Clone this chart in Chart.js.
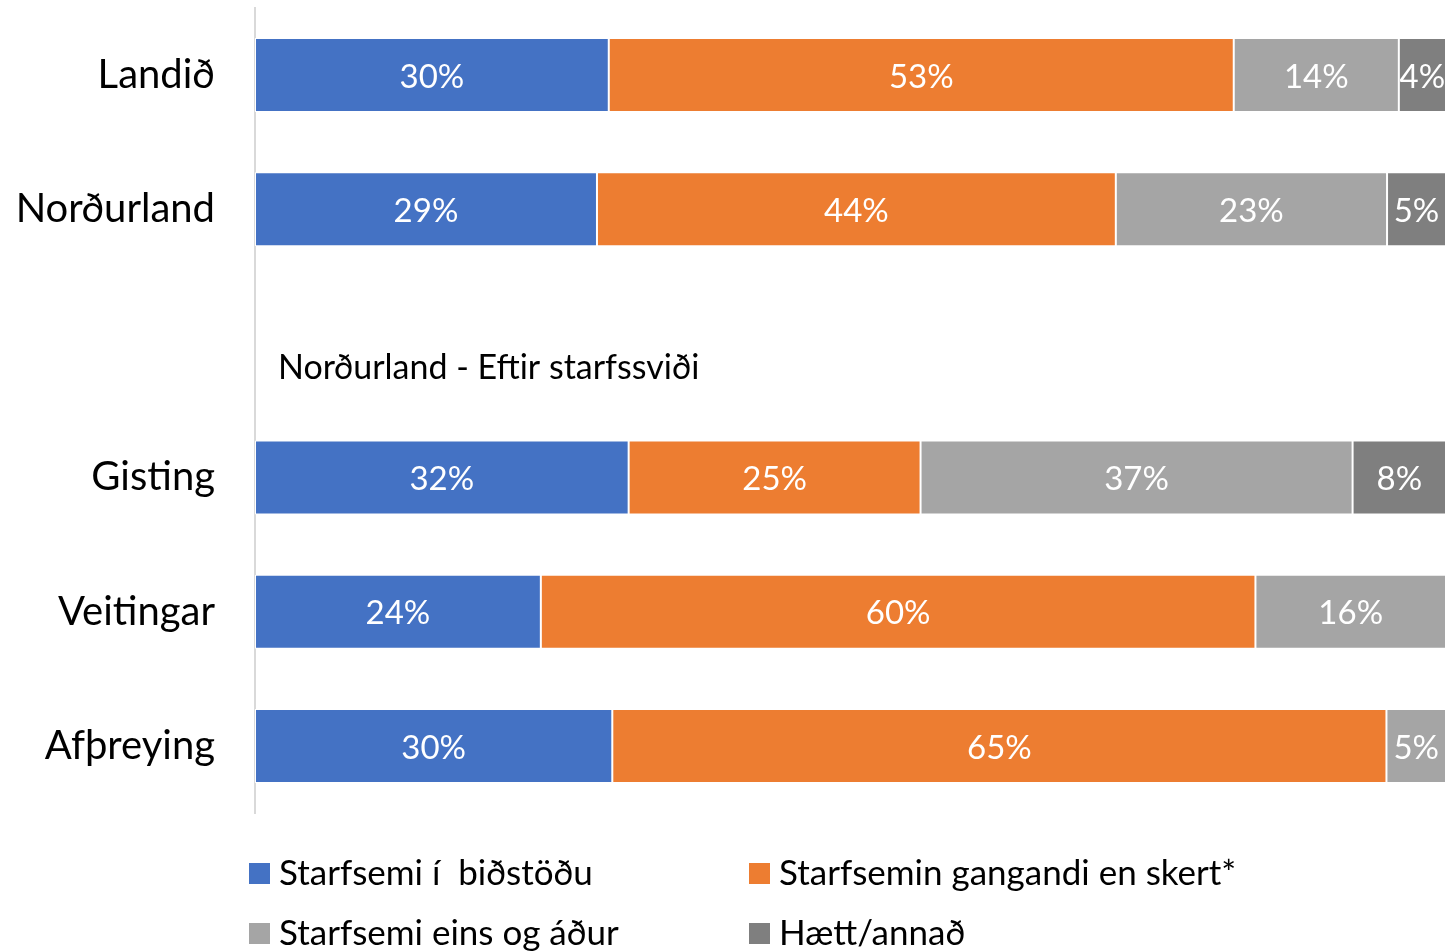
<!DOCTYPE html>
<html>
<head>
<meta charset="utf-8">
<script src="https://cdn.jsdelivr.net/npm/chart.js@4.4.1/dist/chart.umd.min.js"></script>
<style>
  html, body { margin: 0; padding: 0; background: #fff; }
  #wrap { width: 1447px; height: 952px; position: relative; }
</style>
</head>
<body>
<div id="wrap"><canvas id="chart"></canvas></div>
<script>
// rows (the empty one carries the sub-heading)
const categories = ["Landið", "Norðurland", "", "Gisting", "Veitingar", "Afþreying"];
const subHeading = "Norðurland - Eftir starfssviði";

// percentages as shown on the bars
const bidstodu = [30, 29, null, 32, 24, 30];
const skert = [53, 44, null, 25, 60, 65];
const einsOgAdur = [14, 23, null, 37, 16, 5];
const haett = [4, 5, null, 8, 0, 0];

const seriesNames = [
  "Starfsemi í  biðstöðu",
  "Starfsemin gangandi en skert*",
  "Starfsemi eins og áður",
  "Hætt/annað",
];
const seriesColors = ["#4472C4", "#ED7D31", "#A5A5A5", "#7F7F7F"];

const FONT = "Lato, 'Open Sans', sans-serif";
const allSeries = [bidstodu, skert, einsOgAdur, haett];

// 100% stacked: each row scaled to its own total
const rowTotals = categories.map((c, i) =>
  allSeries.reduce((s, arr) => s + (arr[i] || 0), 0)
);
const datasets = allSeries.map((arr, k) => ({
  label: seriesNames[k],
  raw: arr,
  data: arr.map((v, i) => (v == null || rowTotals[i] === 0 ? null : (v / rowTotals[i]) * 100)),
  backgroundColor: seriesColors[k],
  borderColor: "#ffffff",
  borderWidth: 1,
  borderSkipped: false,
  categoryPercentage: 1,
  barPercentage: 0.551,
}));

const barLabels = {
  id: "barLabels",
  afterDatasetsDraw(chart) {
    const ctx = chart.ctx;
    ctx.save();
    ctx.font = "33px " + FONT;
    ctx.fillStyle = "#ffffff";
    ctx.textAlign = "center";
    ctx.textBaseline = "middle";
    chart.data.datasets.forEach((ds, k) => {
      chart.getDatasetMeta(k).data.forEach((bar, i) => {
        const v = ds.raw[i];
        if (!v) return;
        const cx = (bar.x + bar.base) / 2;
        ctx.fillText(v + "%", cx, bar.y + 2);
      });
    });
    ctx.restore();
  },
};

const extras = {
  id: "extras",
  afterDraw(chart) {
    const ctx = chart.ctx;
    const y = chart.scales.y;
    ctx.save();
    // sub-heading in the empty row
    ctx.font = "34px " + FONT;
    ctx.fillStyle = "#000000";
    ctx.textAlign = "left";
    ctx.textBaseline = "middle";
    ctx.fillText(subHeading, 278, y.getPixelForValue(2) + 25);

    // legend, two columns
    const cols = [249, 749];
    const rows = [873, 933];
    ctx.font = "35px " + FONT;
    seriesNames.forEach((name, k) => {
      const x = cols[k % 2];
      const yy = rows[Math.floor(k / 2)];
      ctx.fillStyle = seriesColors[k];
      ctx.fillRect(x, yy - 10, 21, 21);
      ctx.fillStyle = "#000000";
      ctx.fillText(name, x + 30, yy + 1);
    });
    ctx.restore();
  },
};

new Chart(document.getElementById("chart"), {
  type: "bar",
  data: { labels: categories, datasets: datasets },
  options: {
    indexAxis: "y",
    responsive: true,
    maintainAspectRatio: false,
    animation: false,
    layout: { padding: { top: 8, right: 1, bottom: 139, left: 0 } },
    scales: {
      x: {
        stacked: true,
        min: 0,
        max: 100,
        display: false,
      },
      y: {
        stacked: true,
        grid: { display: false, drawTicks: false },
        border: { display: true, color: "#D9D9D9", width: 2 },
        ticks: {
          color: "#000000",
          font: { family: FONT, size: 40 },
          padding: 40,
        },
        afterFit(scale) {
          scale.width = 255;
          scale.paddingTop = 0;
          scale.paddingBottom = 0;
        },
      },
    },
    plugins: {
      legend: { display: false },
      tooltip: { enabled: false },
    },
  },
  plugins: [barLabels, extras],
});
</script>
</body>
</html>
